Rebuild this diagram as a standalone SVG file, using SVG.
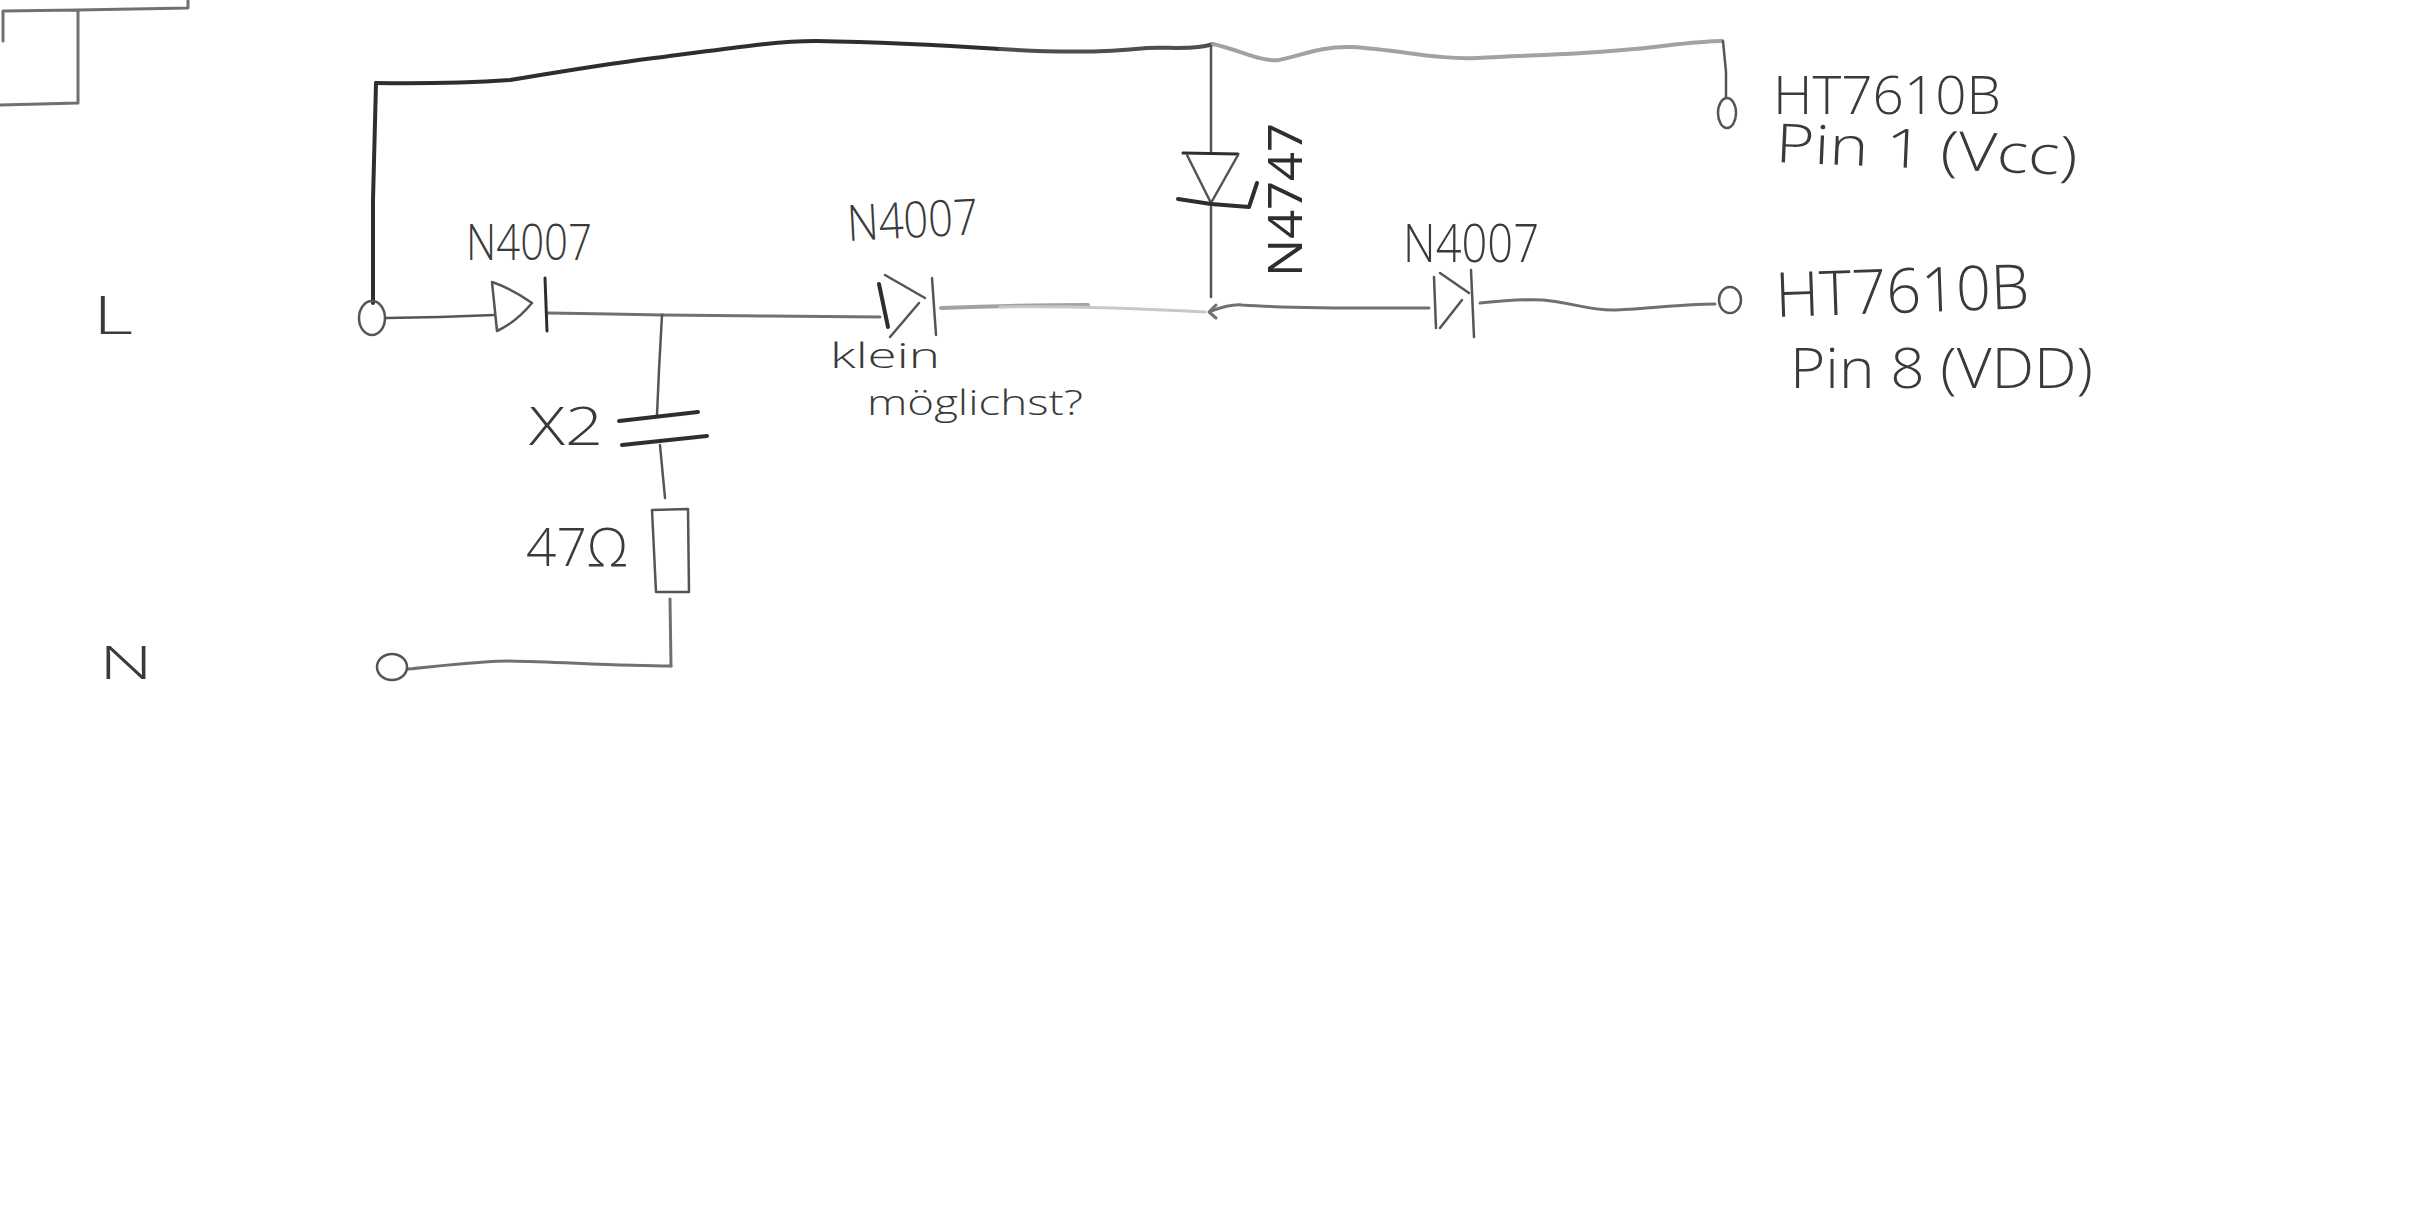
<svg xmlns="http://www.w3.org/2000/svg" width="2413" height="1216" viewBox="0 0 2413 1216">
<style>
.p{fill:none;stroke-linecap:round;stroke-linejoin:round}
.k{stroke:#2e2e2e;stroke-width:4}
.g{stroke:#4e4e4e;stroke-width:4}
.d{stroke:#555;stroke-width:2.5}
.m{stroke:#707070;stroke-width:3}
.l{stroke:#a2a2a2;stroke-width:4}
.f{stroke:#c8c8c8;stroke-width:3}
.t{font-family:"Open Sans","Liberation Sans",sans-serif;font-weight:300;fill:#3a3a3a}
</style>
<rect width="2413" height="1216" fill="#ffffff"/>
<g id="connectors">
<path class="p m" d="M3 11L78 10L188 8V0M3 11V41M78 10V103M0 105L40 104L78 103"/>
<path class="p k" d="M376 83C440 84 480 82 510 80C560 72 610 63 663 57C720 50 770 41 816 41C880 42 940 45 1000 49"/>
<path class="p k" d="M376 83L373 200L373 303"/>
<path class="p g" d="M1000 49C1060 53 1110 52 1147 48C1170 47 1195 50 1213 44"/>
<path class="p l" d="M1213 44C1240 50 1260 62 1279 60C1300 56 1320 46 1352 47C1400 50 1440 60 1477 58C1530 55 1570 55 1623 50C1660 47 1695 41 1722 41"/>
<path class="p d" d="M1723 41L1726 72L1726 98"/>
<path class="p d" d="M386 318L440 317L494 315"/>
<path class="p m" d="M548 313L610 314L663 315"/>
<path class="p m" d="M663 315L770 316L880 317"/>
<path class="p d" d="M662 315L659 370L657 415"/>
<path class="p d" d="M660 445L665 498"/>
<path class="p m" d="M670 599L671 666"/>
<path class="p m" d="M408 669C440 666 480 661 510 661C560 662 620 666 671 666"/>
<path class="p l" d="M941 308C990 306 1050 305 1088 305"/>
<path class="p f" d="M1000 307C1060 306 1130 308 1205 312"/>
<path class="p m" d="M1216 305L1209 312L1216 318"/>
<path class="p m" d="M1211 311C1225 306 1235 304 1242 305C1300 309 1370 308 1429 308"/>
<path class="p m" d="M1480 303C1500 301 1525 299 1543 300C1570 302 1590 311 1616 310C1650 309 1680 304 1715 304"/>
<path class="p d" d="M1211 46V152"/>
<path class="p d" d="M1211 207V297"/>
</g>
<g id="terminal-L"><ellipse class="p d" cx="372" cy="318" rx="13" ry="17"/><text class="t" x="93" y="334" font-size="54" textLength="40" lengthAdjust="spacingAndGlyphs">L</text></g>
<g id="terminal-N"><ellipse class="p d" cx="392" cy="667" rx="15" ry="13"/><text class="t" x="99" y="679" font-size="46" textLength="54" lengthAdjust="spacingAndGlyphs">N</text></g>
<g id="diode-1">
<path class="p d" d="M492 282C510 288 522 296 532 303C522 315 510 325 497 331L492 282"/>
<path class="p k" style="stroke-width:3" d="M545 278L547 331"/>
<text class="t" x="466" y="260" font-size="50" textLength="126" lengthAdjust="spacingAndGlyphs">N4007</text>
</g>
<g id="diode-2">
<path class="p k" d="M879 284L888 327"/>
<path class="p d" d="M885 275L925 298M919 303L890 337"/>
<path class="p d" d="M932 278L936 335"/>
<text class="t" x="848" y="241" font-size="50" textLength="131" lengthAdjust="spacingAndGlyphs" transform="rotate(-3 848 241)">N4007</text>
<text class="t" x="830" y="368" font-size="34" textLength="110" lengthAdjust="spacingAndGlyphs">klein</text>
<text class="t" x="867" y="415" font-size="34" textLength="216" lengthAdjust="spacingAndGlyphs">möglichst?</text>
</g>
<g id="diode-3">
<path class="p d" d="M1434 277L1436 328"/>
<path class="p d" d="M1440 273L1469 293M1462 300L1440 328"/>
<path class="p d" d="M1471 270L1474 337"/>
<text class="t" x="1403" y="262" font-size="54" textLength="136" lengthAdjust="spacingAndGlyphs">N4007</text>
</g>
<g id="zener">
<path class="p k" style="stroke-width:3" d="M1183 153L1238 154"/>
<path class="p d" d="M1187 155L1211 203L1238 155"/>
<path class="p k" d="M1178 199L1211 204L1249 207L1257 183"/>
<text class="t" transform="translate(1302 277) rotate(-90)" font-size="48" textLength="154" lengthAdjust="spacingAndGlyphs" style="font-weight:400;fill:#2e2e2e">N4747</text>
</g>
<g id="capacitor">
<path class="p k" d="M619 421L698 412"/>
<path class="p k" d="M622 445L707 436"/>
<text class="t" x="529" y="445" font-size="54" textLength="74" lengthAdjust="spacingAndGlyphs">X2</text>
</g>
<g id="resistor">
<path class="p d" d="M652 510L688 509L689 592L656 592Z"/>
<text class="t" x="526" y="566" font-size="54" textLength="102" lengthAdjust="spacingAndGlyphs">47Ω</text>
</g>
<g id="terminal-vcc">
<ellipse class="p d" cx="1727" cy="113" rx="9" ry="15"/>
<text class="t" x="1773" y="114" font-size="54" textLength="228" lengthAdjust="spacingAndGlyphs">HT7610B</text>
<text class="t" x="1775" y="162" font-size="54" textLength="302" lengthAdjust="spacingAndGlyphs" transform="rotate(2.5 1775 162)">Pin 1 (Vcc)</text>
</g>
<g id="terminal-vdd">
<ellipse class="p d" cx="1730" cy="300" rx="11" ry="13"/>
<text class="t" x="1776" y="317" font-size="62" textLength="254" lengthAdjust="spacingAndGlyphs" transform="rotate(-2 1776 317)">HT7610B</text>
<text class="t" x="1790" y="388" font-size="56" textLength="303" lengthAdjust="spacingAndGlyphs">Pin 8 (VDD)</text>
</g>
</svg>
